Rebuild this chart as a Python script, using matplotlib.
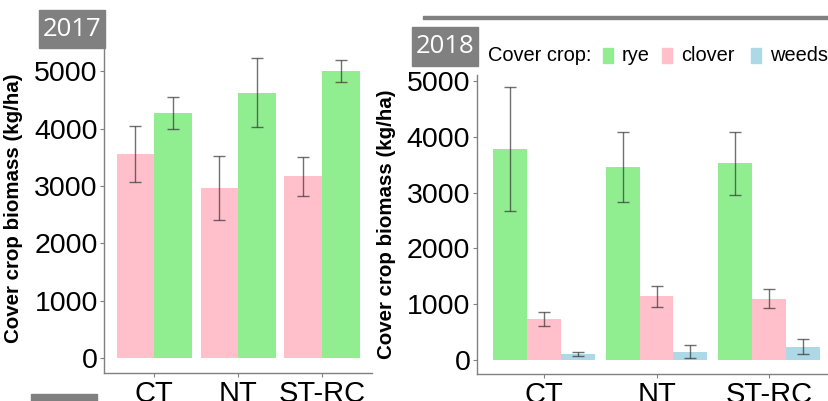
import numpy as np
import matplotlib.pyplot as plt
from matplotlib.patches import Rectangle

plt.rcParams['font.family'] = ['Liberation Sans', 'DejaVu Sans']

systems = ['CT', 'NT', 'ST-RC']

# 2017: clover and rye
clover17 = [3555, 2972, 3176]
clover17_lo = [3077, 2403, 2822]
clover17_hi = [4049, 3531, 3513]
rye17 = [4276, 4625, 5003]
rye17_lo = [3997, 4031, 4811]
rye17_hi = [4560, 5230, 5206]

# 2018: rye, clover, weeds
rye18 = [3781, 3459, 3524]
rye18_lo = [2676, 2826, 2951]
rye18_hi = [4887, 4086, 4092]
clover18 = [735, 1141, 1093]
clover18_lo = [604, 950, 932]
clover18_hi = [855, 1332, 1267]
weeds18 = [108, 143, 233]
weeds18_lo = [66, 30, 102]
weeds18_hi = [149, 263, 371]

legend_names = ['rye', 'clover', 'weeds']
col = {'rye': '#90EE90', 'clover': '#FFC0CB', 'weeds': '#ADD8E6'}
grey = '#808080'

W, H = 829, 401
fig = plt.figure(figsize=(W / 100, H / 100), dpi=100)
ax1 = fig.add_axes([0.1255, 0.0698, 0.3238, 0.822])
ax2 = fig.add_axes([0.5748, 0.0683, 0.4343, 0.7454])


def draw(ax, series):
    x = np.arange(len(systems)) + 1
    n = len(series)
    w = 0.9 / n
    for i, (name, v, lo, hi) in enumerate(series):
        xs = x - 0.45 + w * (i + 0.5)
        ax.bar(xs, v, width=w, color=col[name], linewidth=0)
        v = np.array(v)
        err = [v - np.array(lo), np.array(hi) - v]
        ax.errorbar(xs, v, yerr=err, fmt='none', ecolor='#333333', alpha=0.7,
                    elinewidth=1, capsize=4, capthick=1)
    ax.set_xlim(0.4, 3.6)
    ax.set_xticks(x)
    ax.set_xticklabels(systems)
    ax.set_yticks([0, 1000, 2000, 3000, 4000, 5000])
    for s in ['top', 'right']:
        ax.spines[s].set_visible(False)
    for s in ['left', 'bottom']:
        ax.spines[s].set_color(grey)
        ax.spines[s].set_linewidth(1)
    ax.tick_params(colors=grey, labelcolor='black', labelsize=20.5, length=3, pad=1.5)
    ax.tick_params(axis='x', labelsize=21, pad=2)
    ax.set_ylabel('Cover crop biomass (kg/ha)', fontsize=14.8, fontweight='bold')


draw(ax1, [('clover', clover17, clover17_lo, clover17_hi),
           ('rye', rye17, rye17_lo, rye17_hi)])
ax1.set_ylim(-262, 5490)
ax1.yaxis.set_label_coords(-0.302, 0.5)

draw(ax2, [('rye', rye18, rye18_lo, rye18_hi),
           ('clover', clover18, clover18_lo, clover18_hi),
           ('weeds', weeds18, weeds18_lo, weeds18_hi)])
ax2.set_ylim(-243, 5113)
ax2.yaxis.set_label_coords(-0.224, 0.5)

# legend row
ly = 1 - 55.5 / H
fig.text(488 / W, ly, 'Cover crop:', fontsize=14.4, va='center', ha='left')
key_x = [603, 662, 751]
for kx, name in zip(key_x, legend_names):
    fig.patches.append(Rectangle((kx / W, 1 - 63 / H), 10 / W, 15 / H,
                                 transform=fig.transFigure, color=col[name]))
    fig.text((kx + 19) / W, ly, name, fontsize=14.4, va='center', ha='left')

# year label boxes
fig.patches.append(Rectangle((39 / W, 1 - 48 / H), 66 / W, 38 / H, transform=fig.transFigure,
                             color=grey, zorder=5))
fig.text(72 / W, 1 - 29 / H, '2017', color='white', fontsize=18.5, ha='center', va='center',
         family='Open Sans', zorder=6)
fig.patches.append(Rectangle((412 / W, 1 - 66 / H), 66 / W, 39 / H, transform=fig.transFigure,
                             color=grey, zorder=5))
fig.text(445 / W, 1 - 46.5 / H, '2018', color='white', fontsize=18.5, ha='center', va='center',
         family='Open Sans', zorder=6)

# decorative grey bars
fig.patches.append(Rectangle((423 / W, 1 - 19 / H), 406 / W, 3 / H, transform=fig.transFigure,
                             color=grey, zorder=5))
fig.patches.append(Rectangle((31 / W, 0), 66 / W, 7 / H, transform=fig.transFigure,
                             color=grey, zorder=5))

fig.savefig('out.png', dpi=100)
